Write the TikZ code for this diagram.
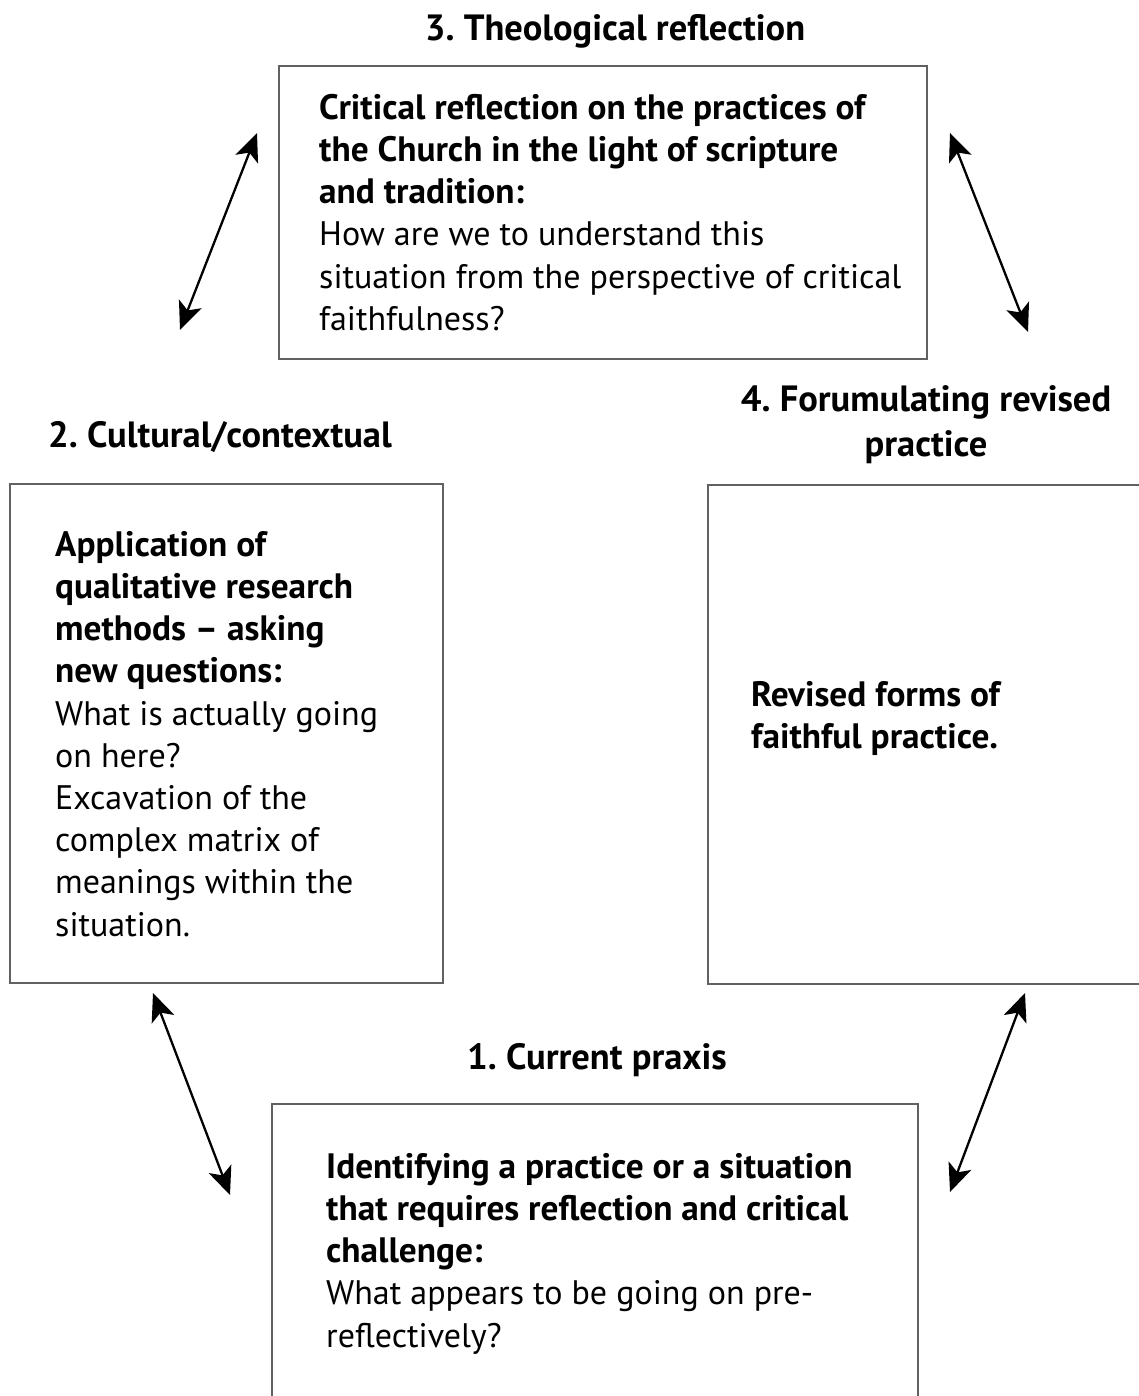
\documentclass[tikz,border=0pt]{standalone}
\usepackage{fontspec}
\setmainfont{PT Sans}
\usetikzlibrary{arrows.meta}
\newcommand\bb[1]{{\fontsize{35.3}{42.2}\selectfont\bfseries #1}}
\newcommand\topstrut{\rule{0pt}{30pt}}
\begin{document}
\frenchspacing
\begin{tikzpicture}[x=1pt,y=-1pt,
  box/.style={draw=black!62, line width=1.8pt, minimum width=#1, inner sep=0pt},
  title/.style={font=\fontsize{36.5}{45}\selectfont\bfseries, align=center, inner sep=0pt},
  body/.style={font=\fontsize{34}{42.2}\selectfont, align=left, anchor=north west, inner sep=0pt},
  conn/.style={line width=2.3pt, {Stealth[length=28pt,width=24pt,inset=7pt]}-{Stealth[length=28pt,width=24pt,inset=7pt]}}
]
\useasboundingbox (0,0) rectangle (1139,1396);
\fill[white] (0,0) rectangle (1139,1396);
\begin{scope}
\clip (0,0) rectangle (1139,1396);
% boxes
\node[box=648pt, minimum height=293pt] (b3) at (603,212.5) {};
\node[box=433pt, minimum height=499pt] (b2) at (226.5,733.5) {};
\node[box=442pt, minimum height=499pt] (b4) at (929,734.5) {};
\node[box=646pt, minimum height=306pt] (b1) at (595,1257) {};
\end{scope}

% titles
\node[title, anchor=base] (t3) at (615,41) {3. Theological reflection};
\node[title, anchor=base] (t2) at (220,447) {2. Cultural/contextual};
\node[title, anchor=north] (t4) at (926,381) {\topstrut 4. Forumulating revised\\practice};
\node[title, anchor=base] (t1) at (597,1069) {1. Current praxis};

% body texts
\node[body] (x3) at (319,89) {\topstrut\bb{Critical reflection on the practices of}\\
\bb{the Church in the light of scripture}\\
\bb{and tradition:}\\
How are we to understand this\\
situation from the perspective of critical\\
faithfulness?};
\node[body] (x2) at (55,526) {\topstrut\bb{Application of}\\
\bb{qualitative research}\\
\bb{methods -- asking}\\
\bb{new questions:}\\
What is actually going\\
on here?\\
Excavation of the\\
complex matrix of\\
meanings within the\\
situation.};
\node[body] (x4) at (751,676) {\topstrut\bb{Revised forms of}\\
\bb{faithful practice.}};
\node[body] (x1) at (326,1148) {\topstrut\bb{Identifying a practice or a situation}\\
\bb{that requires reflection and critical}\\
\bb{challenge:}\\
What appears to be going on pre-\\
reflectively?};

% connectors
\coordinate (a1s) at (257,133);
\coordinate (a1e) at (180,330);
\coordinate (a2s) at (950,133);
\coordinate (a2e) at (1028,332);
\coordinate (a3s) at (153,993);
\coordinate (a3e) at (230,1195);
\coordinate (a4s) at (1025,993);
\coordinate (a4e) at (950,1192);
\draw[conn] (a1s) -- (a1e);
\draw[conn] (a2s) -- (a2e);
\draw[conn] (a3s) -- (a3e);
\draw[conn] (a4s) -- (a4e);
\end{tikzpicture}
\end{document}
